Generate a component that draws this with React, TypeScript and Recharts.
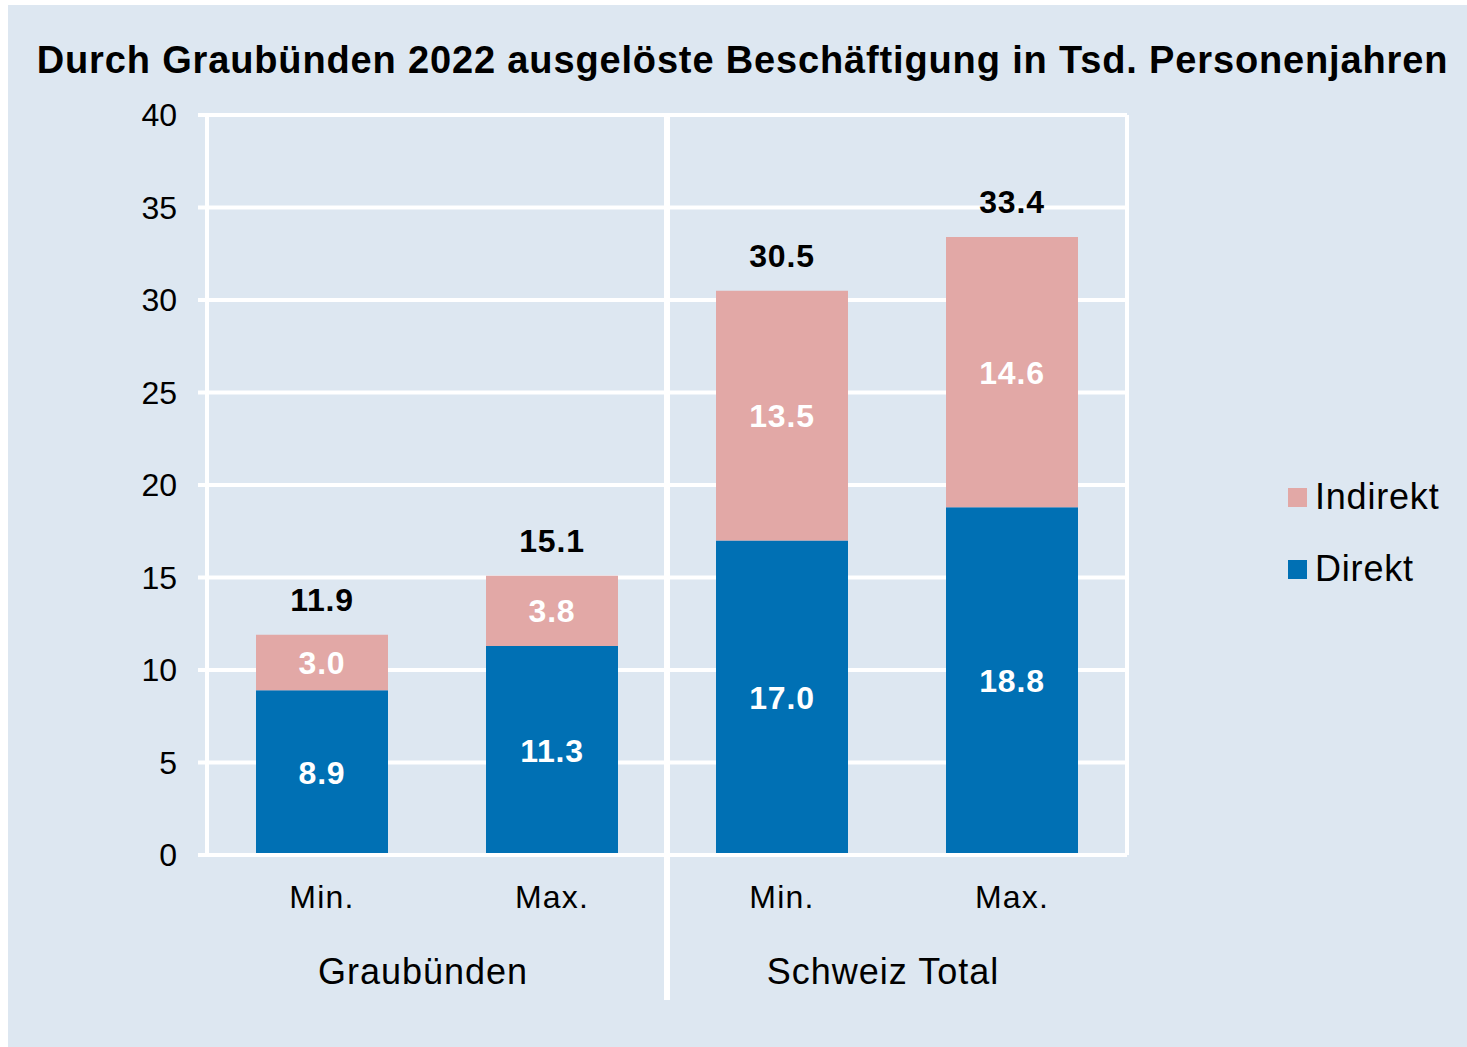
import React from "react";
import { BarChart, Bar, XAxis, YAxis, CartesianGrid, LabelList } from "recharts";

const categories = ["Min.", "Max.", "Min.", "Max."];
const groups = ["Graubünden", "Graubünden", "Schweiz Total", "Schweiz Total"];
const direkt = [8.9, 11.3, 17.0, 18.8];
const indirekt = [3.0, 3.8, 13.5, 14.6];
const totals = [11.9, 15.1, 30.5, 33.4];
const yTicks = [0, 5, 10, 15, 20, 25, 30, 35, 40];
const title = "Durch Graubünden 2022 ausgelöste Beschäftigung in Tsd. Personenjahren";

const series = [
  { key: "direkt", name: "Direkt", color: "#0070b4" },
  { key: "indirekt", name: "Indirekt", color: "#e2a8a6" },
];

const data = categories.map((c, i) => ({
  label: c,
  group: groups[i],
  direkt: direkt[i],
  indirekt: indirekt[i],
  total: totals[i],
}));

const FONT = "'Liberation Sans', Arial, Helvetica, sans-serif";
const BG = "#dde7f1";
const W = 1459;
const H = 1042;
const MARGIN = { top: 110, right: 0, bottom: 0, left: 0 };

const GroupTick = (props: any) => {
  const { x, y, payload, index } = props;
  const half = payload && typeof payload.offset === "number" && payload.offset > 0 ? payload.offset : 230;
  return (
    <g>
      <text
        x={x - 14}
        y={y}
        dy="0.71em"
        textAnchor="middle"
        fill="#000"
        fontSize={36}
        fontFamily={FONT}
        letterSpacing={1}
      >
        {payload.value}
      </text>
      {index === 1 && (
        <line x1={x - half} x2={x - half} y1={MARGIN.top - 1} y2={995} stroke="#fff" strokeWidth={6} />
      )}
    </g>
  );
};

export default function App() {
  return (
    <div
      style={{
        position: "absolute",
        left: 8,
        top: 5,
        width: W,
        height: H,
        background: BG,
        fontFamily: FONT,
      }}
    >
      <div
        style={{
          position: "absolute",
          left: 5,
          top: 35,
          width: W,
          textAlign: "center",
          fontSize: 38,
          letterSpacing: "0.85px",
          fontWeight: "bold",
          lineHeight: "40px",
          color: "#000",
          whiteSpace: "nowrap",
        }}
      >
        {title}
      </div>
      <BarChart
        width={W}
        height={H}
        data={data}
        margin={MARGIN}
        barSize={132}
        style={{ position: "absolute", left: 0, top: 0 }}
      >
        <CartesianGrid vertical={false} stroke="#fff" strokeWidth={4} />
        <XAxis
          dataKey="label"
          xAxisId={0}
          height={60}
          axisLine={{ stroke: "#fff", strokeWidth: 4 }}
          tickLine={false}
          tickSize={0}
          tickMargin={30}
          interval={0}
          tick={{ fill: "#000", fontSize: 32, fontFamily: FONT, letterSpacing: 1.2 }}
        />
        <XAxis
          dataKey="group"
          xAxisId="group"
          allowDuplicatedCategory={false}
          height={132}
          axisLine={false}
          tickLine={false}
          tickSize={0}
          tickMargin={43}
          interval={0}
          tick={<GroupTick />}
        />
        <YAxis
          width={199}
          domain={[0, 40]}
          ticks={yTicks}
          interval={0}
          axisLine={{ stroke: "#fff", strokeWidth: 4 }}
          tickLine={{ stroke: "#fff", strokeWidth: 4 }}
          tickSize={9}
          tickMargin={21}
          tick={{ fill: "#000", fontSize: 32, fontFamily: FONT }}
        />
        <YAxis
          yAxisId="r"
          orientation="right"
          width={340}
          domain={[0, 40]}
          tick={false}
          tickLine={false}
          axisLine={{ stroke: "#fff", strokeWidth: 4 }}
        />
        <Bar dataKey="direkt" name="Direkt" stackId="a" fill={series[0].color} isAnimationActive={false}>
          <LabelList
            dataKey="direkt"
            position="center"
            fill="#fff"
            fontSize={32}
            fontWeight="bold"
            fontFamily={FONT}
            letterSpacing={0.8}
            formatter={(v: any) => Number(v).toFixed(1)}
          />
        </Bar>
        <Bar dataKey="indirekt" name="Indirekt" stackId="a" fill={series[1].color} isAnimationActive={false}>
          <LabelList
            dataKey="indirekt"
            position="center"
            fill="#fff"
            fontSize={32}
            fontWeight="bold"
            fontFamily={FONT}
            letterSpacing={0.8}
            formatter={(v: any) => Number(v).toFixed(1)}
          />
          <LabelList
            dataKey="total"
            position="top"
            offset={24}
            fill="#000"
            fontSize={32}
            fontWeight="bold"
            fontFamily={FONT}
            letterSpacing={0.8}
            formatter={(v: any) => Number(v).toFixed(1)}
          />
        </Bar>
      </BarChart>
      <div style={{ position: "absolute", left: 1280, top: 467 }}>
        {[...series].reverse().map((s) => (
          <div
            key={s.key}
            style={{ display: "flex", alignItems: "center", height: 50, marginBottom: 22 }}
          >
            <div style={{ width: 19, height: 19, background: s.color, marginRight: 8 }} />
            <span style={{ fontSize: 36, color: "#000", lineHeight: "40px", letterSpacing: "0.8px" }}>
              {s.name}
            </span>
          </div>
        ))}
      </div>
    </div>
  );
}
